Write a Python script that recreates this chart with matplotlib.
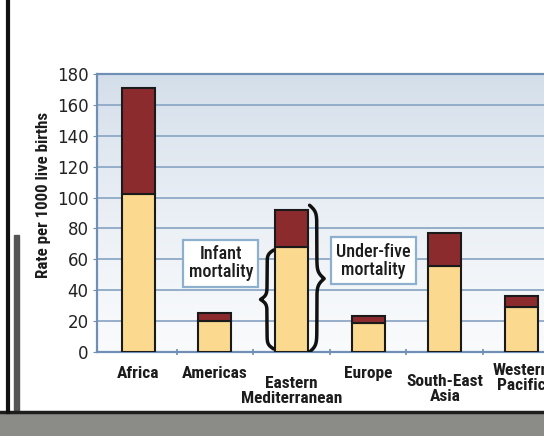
import numpy as np
import matplotlib
matplotlib.use("Agg")
import matplotlib.pyplot as plt
from matplotlib.patches import Rectangle
from matplotlib.lines import Line2D

# ---------------- data ----------------
regions = ["Africa", "Americas", "Eastern\nMediterranean", "Europe",
           "South-East\nAsia", "Western\nPacific"]
infant_mortality = [102, 20, 68, 19, 56, 29]
under_five_mortality = [171, 25, 92, 23, 77, 36]
y_ticks = [0, 20, 40, 60, 80, 100, 120, 140, 160, 180]
y_label = "Rate per 1000 live births"
infant_text = "Infant\nmortality"
under_five_text = "Under-five\nmortality"

# layout only (pixel offsets of category labels below the axis)
label_offsets = [21, 21, 39, 21, 37, 26]

W, H = 544, 436
fig = plt.figure(figsize=(W / 100, H / 100), dpi=100)
fig.patch.set_facecolor("white")

narrow = ["Roboto Condensed", "Archivo Narrow", "DejaVu Sans"]

ax = fig.add_axes([97 / W, (H - 352) / H, 478 / W, (352 - 74) / H])

# background gradient
g = np.linspace(0, 1, 256) ** 1.3
top = np.array([0.830, 0.872, 0.918])
bot = np.array([0.975, 0.982, 0.988])
rgb = bot[None, :] + (top - bot)[None, :] * g[:, None]
ax.imshow(rgb[:, None, :], extent=[0, 1, 0, 1], transform=ax.transAxes,
          aspect="auto", origin="lower", zorder=0)
ax.set_xlim(-0.54, 5.7)
ax.set_ylim(0, 180)

frame_col = "#6f8fb4"
grid_col = "#8ea9c6"
for yv in y_ticks[1:-1]:
    ax.axhline(yv, color=grid_col, lw=1.3, zorder=1)

x = np.arange(len(regions))
bw = 0.43
yellow = "#fbd98f"
maroon = "#8c2b2e"
extra = [u - i for u, i in zip(under_five_mortality, infant_mortality)]
ax.bar(x, infant_mortality, width=bw, color=yellow, edgecolor="#1a1a1a",
       lw=1.5, zorder=3)
ax.bar(x, extra, bottom=infant_mortality, width=bw, color=maroon,
       edgecolor="#1a1a1a", lw=1.5, zorder=3)

for s in ["left", "top", "bottom"]:
    ax.spines[s].set_color(frame_col)
    ax.spines[s].set_linewidth(1.6)
ax.spines["right"].set_visible(False)

ax.set_yticks(y_ticks)
ax.set_yticklabels([str(v) for v in y_ticks], fontsize=12,
                   family="DejaVu Sans", color="#222222")
ax.tick_params(axis="y", length=3, color=frame_col, pad=3)
ax.set_xticks([])
ax.set_xticks(x[:-1] + 0.5, minor=True)
ax.tick_params(axis="x", which="minor", length=5, direction="inout",
               color=frame_col, width=1.2)

for i, (lab, off) in enumerate(zip(regions, label_offsets)):
    ax.annotate(lab, xy=(i, 0), xycoords=("data", "axes fraction"),
                xytext=(0, -off), textcoords="offset pixels",
                ha="center", va="center", fontsize=12.5, fontweight="bold",
                family=narrow, color="#1c1c1c", linespacing=1.0,
                annotation_clip=False)

fig.text(44 / W, 1 - 195 / H, y_label, rotation=90, ha="center",
         va="center", fontsize=12.2, fontweight="bold", family=narrow,
         color="#1c1c1c")

box = dict(boxstyle="square,pad=0.3", fc="white", ec="#8db0cf", lw=1.6)
ax.text(1.077, 57.5, infant_text, ha="center", va="center", fontsize=13,
        fontweight="medium", family=narrow, color="#1c1c1c", bbox=box,
        zorder=5, linespacing=1.0)
ax.text(3.07, 59, under_five_text, ha="center", va="center", fontsize=13,
        fontweight="medium", family=narrow, color="#1c1c1c", bbox=box,
        zorder=5, linespacing=1.0)


def brace(ax, x_base, x_tip, y0, y1, beta=45.0):
    n = 300
    half = np.linspace(0, 0.5, n)
    p = 1 / (1 + np.exp(-beta * half)) + 1 / (1 + np.exp(-beta * (half - 0.5)))
    p = (p - p[0]) / (p[-1] - p[0])
    prof = np.concatenate([p, p[::-1]])
    s = np.concatenate([half, 1 - half[::-1]])
    ys = y0 + (y1 - y0) * s
    xs = x_base + (x_tip - x_base) * prof
    ax.plot(xs, ys, color="#111111", lw=2.5, zorder=6, solid_capstyle="round")


k = 2
brace(ax, k - bw / 2 - 0.02, k - bw / 2 - 0.19, 2, infant_mortality[k] - 2)
brace(ax, k + bw / 2 + 0.02, k + bw / 2 + 0.21, 0, under_five_mortality[k] + 3)

# page decorations (photo edges)
fig.patches.append(Rectangle((0, 0), 1, 23 / H, transform=fig.transFigure,
                             color="#8b8b87", zorder=0))
fig.lines.append(Line2D([0, 1], [24 / H, 24 / H], transform=fig.transFigure,
                        color="#1e1e1e", lw=2.5))
fig.lines.append(Line2D([7.5 / W, 7.5 / W], [24 / H, 1], transform=fig.transFigure,
                        color="#111111", lw=3))
fig.patches.append(Rectangle((14 / W, 24 / H), 5 / W, (412 - 235) / H,
                             transform=fig.transFigure, color="#555555",
                             zorder=0))

fig.savefig("out.png", dpi=100, facecolor="white")
